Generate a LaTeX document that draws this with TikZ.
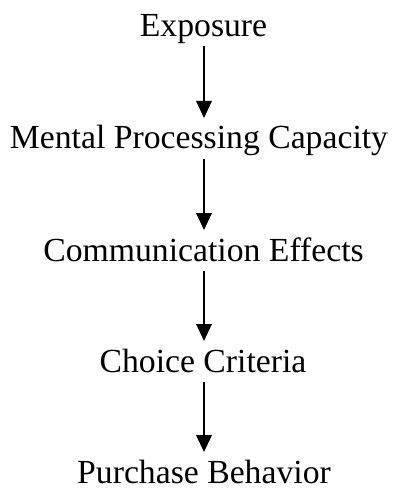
\documentclass[tikz,border=0pt]{standalone}
\usepackage{fontspec}
\setmainfont{Liberation Serif}
\usetikzlibrary{arrows.meta,positioning}

\begin{document}
\begin{tikzpicture}[x=1pt,y=-1pt,
    stage/.style={anchor=base,inner sep=0pt,font=\fontsize{33.7}{40}\selectfont},
    flow/.style={line width=1.8pt,-{Triangle[width=15.5pt,length=17pt]}}]
      \useasboundingbox (0,0) rectangle (398,489);
      \coordinate (axis) at (204,0);

      \node[stage] (exp) at (203.5,37) {Exposure};
      \node[stage] (mpc) at (199,149) {Mental Processing Capacity};
      \node[stage] (com) at (203.5,261) {Communication Effects};
      \node[stage] (cho) at (203,372) {Choice Criteria};
      \node[stage] (pur) at (204,483) {Purchase Behavior};

      \draw[flow] ([yshift=-9.5]exp.base -| axis) -- ([yshift=31]mpc.base -| axis);
      \draw[flow] ([yshift=-9.5]mpc.base -| axis) -- ([yshift=31]com.base -| axis);
      \draw[flow] ([yshift=-9.5]com.base -| axis) -- ([yshift=31]cho.base -| axis);
      \draw[flow] ([yshift=-9.5]cho.base -| axis) -- ([yshift=31]pur.base -| axis);
\end{tikzpicture}
\end{document}
